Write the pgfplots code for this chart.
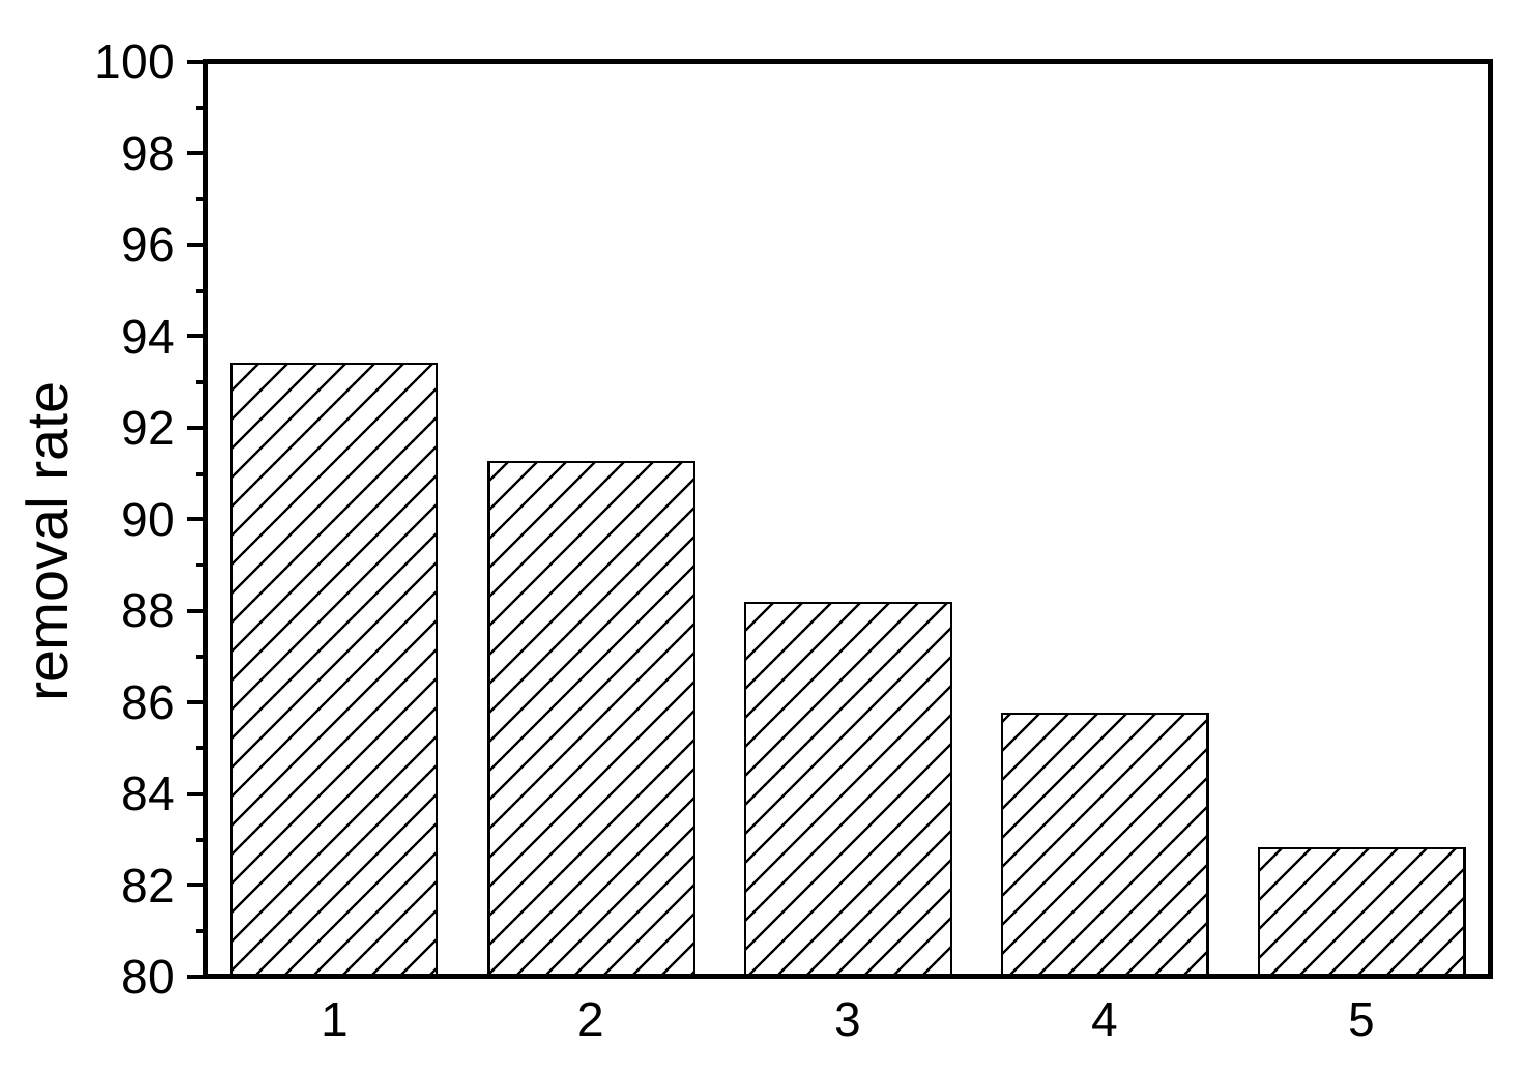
\documentclass[border=0pt]{standalone}
\usepackage{fontspec}
\setmainfont{Liberation Sans}
\usepackage{pgfplots}
\pgfplotsset{compat=1.18}
\usetikzlibrary{patterns}
\pgfdeclarepatternformonly{hatchNE}{\pgfqpoint{0pt}{0pt}}{\pgfqpoint{7.25pt}{7.25pt}}{\pgfqpoint{7.25pt}{7.25pt}}{%
  \pgfsetlinewidth{0.6pt}%
  \pgfpathmoveto{\pgfqpoint{-1pt}{-1pt}}\pgfpathlineto{\pgfqpoint{8.25pt}{8.25pt}}%
  \pgfpathmoveto{\pgfqpoint{-8.25pt}{-1pt}}\pgfpathlineto{\pgfqpoint{1pt}{8.25pt}}%
  \pgfpathmoveto{\pgfqpoint{6.25pt}{-1pt}}\pgfpathlineto{\pgfqpoint{15.5pt}{8.25pt}}%
  \pgfusepath{stroke}}
\begin{document}
\begin{tikzpicture}
\begin{axis}[
  scale only axis,
  width=321pt, height=228.75pt,
  xmin=0.5, xmax=5.5, ymin=80, ymax=100,
  axis line style={line width=1.25pt},
  xtick={1,2,3,4,5},
  ytick={80,82,...,100},
  minor y tick num=1,
  tick align=outside,
  xtick pos=bottom, ytick pos=left,
  major x tick style={draw=none},
  major tick length=4.75pt, minor tick length=2.5pt,
  every tick/.style={line width=1pt,black},
  tick label style={font=\fontsize{12}{14}\selectfont},
  /pgf/number format/assume math mode=true,
  ylabel={removal rate},
  ylabel style={font=\fontsize{14.4}{16}\selectfont, at={(axis description cs:-0.1238,0.476)}, anchor=center},
  yticklabel style={xshift=0.5pt},
  xticklabel style={yshift=1.75pt},
]
\addplot[ybar, bar width=0.8, draw=black, line width=0.6pt,
  pattern=hatchNE]
  coordinates {(1,93.4) (2,91.26) (3,88.18) (4,85.75) (5,82.82)};
\end{axis}
\pgfresetboundingbox
\path (current axis.south west) ++(-51.5pt,-27.25pt) coordinate (bbA);
\path (current axis.north east) ++(9.5pt,15.5pt) coordinate (bbB);
\useasboundingbox (bbA) rectangle (bbB);
\end{tikzpicture}
\end{document}
